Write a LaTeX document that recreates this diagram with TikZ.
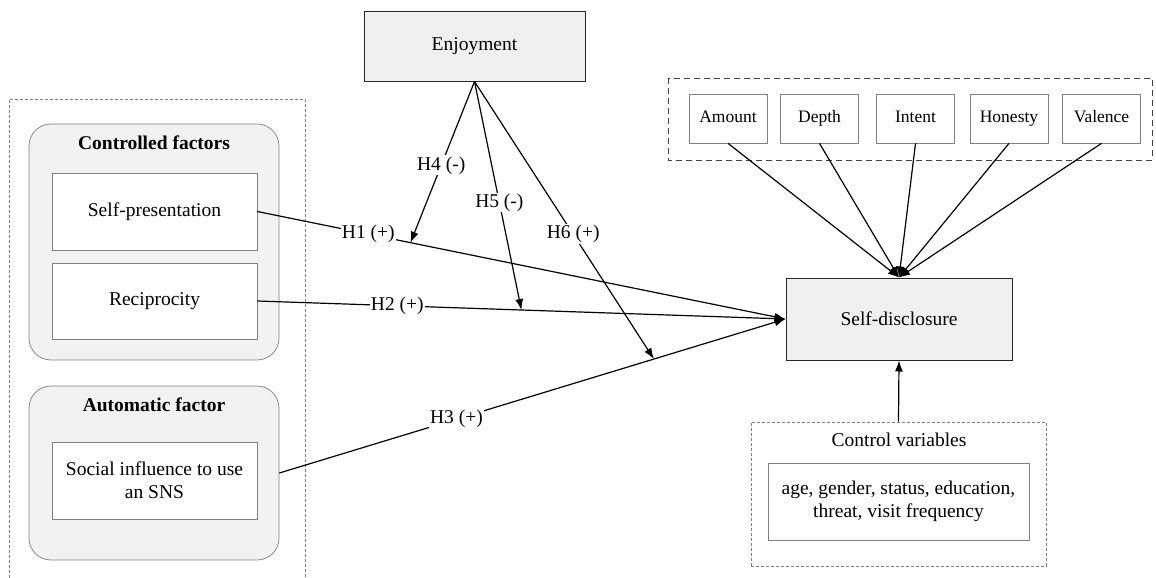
\documentclass[tikz,border=0pt]{standalone}
\usepackage{fontspec}
\setmainfont{Liberation Serif}
\usetikzlibrary{arrows.meta}

\begin{document}
\begin{tikzpicture}
      [x=1pt,y=-1pt,
       every node/.style={font=\fontsize{19.5}{23}\selectfont},
       box/.style={draw=gray,fill=white,line width=0.7pt,inner sep=0pt},
       group/.style={draw=gray,fill=black!5,rounded corners=22pt,line width=0.7pt},
       main/.style={draw=black!85,fill=black!6,line width=1pt,inner sep=0pt},
       fine/.style={draw=gray,line width=0.6pt,dash pattern=on 3pt off 2pt},
       link/.style={line width=1.2pt,-{Latex[length=11pt,width=8pt]}},
       lab/.style={fill=white,inner sep=1pt}]
      \useasboundingbox (0,0) rectangle (1156,578);

      \draw [fine] (9,578) -- (9,99) -- (305,99) -- (305,578);
      \node [group,minimum width=250pt,minimum height=236pt] (ctrl) at (154,242) {};
      \node [group,minimum width=250pt,minimum height=174pt] (auto) at (154,473) {};
      \node [font=\fontsize{19.5}{23}\selectfont\bfseries] (ctrllab) at (154,143) {Controlled factors};
      \node [font=\fontsize{19.5}{23}\selectfont\bfseries] (autolab) at (154,405) {Automatic factor};
      \node [box,minimum width=205pt,minimum height=77pt] (pres) at (154.5,211.5) {Self-presentation};
      \node [box,minimum width=205pt,minimum height=76pt] (recip) at (154.5,301) {Reciprocity};
      \node [box,minimum width=205pt,minimum height=77pt,align=center] (social) at (154.5,480.5)
            {Social influence to use\\an SNS};

      \node [main,minimum width=221pt,minimum height=69pt] (enjoy) at (474.5,46.5) {Enjoyment};
      \node [main,minimum width=226pt,minimum height=82pt] (disc) at (899,319) {Self-disclosure};

      \draw [draw=black!75,line width=0.9pt,dash pattern=on 6pt off 4pt] (668,78) rectangle (1152,160);
      \foreach \name/\x in {Amount/728, Depth/819.5, Intent/915.5, Honesty/1009, Valence/1101.5}
      \node [box,minimum width=78pt,minimum height=49pt,text height=12.5pt,text depth=4pt,
             font=\fontsize{17.5}{21}\selectfont] (\name) at (\x,118.5) {\name};
      \foreach \name in {Amount, Depth, Intent, Honesty, Valence}
      \draw [link] (\name.south) -- (disc.north);

      \node [fine,minimum width=295pt,minimum height=144pt] (cvars) at (898.5,494) {};
      \node (cvlab) at (899,440) {Control variables};
      \node [box,minimum width=261pt,minimum height=77pt,align=center] (cvlist) at (898.5,501.5)
            {age, gender, status, education,\\threat, visit frequency};
      \draw [link] (cvars.north) -- (disc.south);

      \draw [link] (pres.east) -- node [lab,pos=0.21] {H1 (+)} coordinate [pos=0.29] (h1) (disc.west);
      \draw [link] (recip.east) -- node [lab,pos=0.265] {H2 (+)} coordinate [pos=0.5] (h2) (disc.west);
      \draw [link] (auto.east) -- node [lab,pos=0.35] {H3 (+)} coordinate [pos=0.74] (h3) (disc.west);

      \draw [link] (enjoy.south) -- node [lab,pos=0.52] {H4 (-)} (h1);
      \draw [link] (enjoy.south) -- node [lab,pos=0.53] {H5 (-)} (h2);
      \draw [link] (enjoy.south) -- node [lab,pos=0.55] {H6 (+)} (h3);
    \end{tikzpicture}
\end{document}
